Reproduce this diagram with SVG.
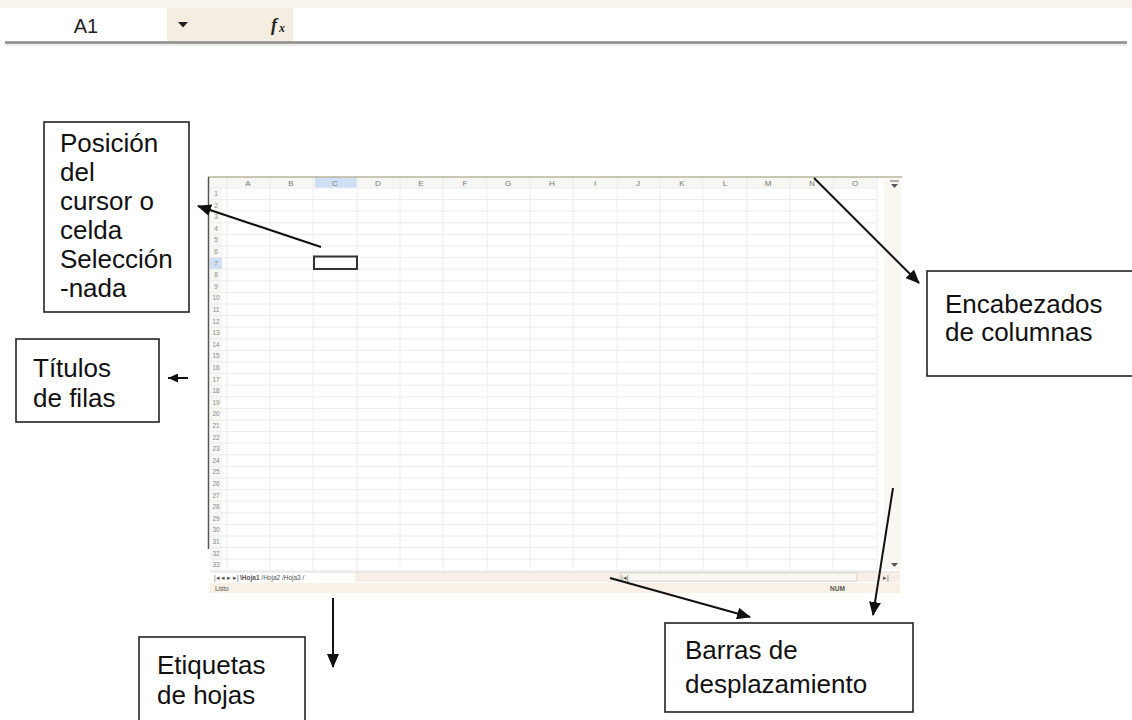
<svg xmlns="http://www.w3.org/2000/svg" width="1132" height="720" viewBox="0 0 1132 720">
<style>
.lbl{font-family:"Liberation Sans",Arial,sans-serif;font-size:26px;fill:#111;}
.box{fill:#fff;stroke:#222;stroke-width:1.6;}
.conn{stroke:#111;stroke-width:2;fill:none;}
.hdr{font-family:"Liberation Sans",Arial,sans-serif;font-size:8px;fill:#777;text-anchor:middle;}
.rn{font-family:"Liberation Sans",Arial,sans-serif;font-size:6.5px;fill:#888;text-anchor:middle;}
.tiny{font-family:"Liberation Sans",Arial,sans-serif;font-size:6.5px;fill:#555;}
.grid{stroke:#ececec;stroke-width:1;fill:none;}
</style>
<defs>
<marker id="ah" markerUnits="userSpaceOnUse" markerWidth="14" markerHeight="12" refX="13" refY="6" orient="auto">
<path d="M0,0 L14,6 L0,12 z" fill="#111"/>
</marker>
<marker id="ahs" markerUnits="userSpaceOnUse" markerWidth="10" markerHeight="9" refX="10" refY="4.5" orient="auto">
<path d="M0,0 L10,4.5 L0,9 z" fill="#111"/>
</marker>
</defs>
<rect width="1132" height="720" fill="#fff"/>

<!-- formula bar -->
<g id="formula-bar">
<rect x="0" y="0" width="1132" height="8" fill="#f8f3ec"/>
<rect x="5" y="8" width="1122" height="33" fill="#fff"/>
<rect x="167" y="8" width="126" height="33" fill="#f5ede2"/>
<line x1="5" y1="42.5" x2="1127" y2="42.5" stroke="#8a8a8a" stroke-width="2.5"/>
<line x1="5" y1="45" x2="1127" y2="45" stroke="#d8d8d8" stroke-width="1"/>
<text x="86" y="33" font-family="Liberation Sans, Arial, sans-serif" font-size="20" fill="#222" text-anchor="middle">A1</text>
<polygon points="178,22 188,22 183,27.5" fill="#222"/>
<text x="271" y="31" font-family="Liberation Serif, serif" font-size="18" font-style="italic" font-weight="bold" fill="#222">f</text>
<text x="279" y="32" font-family="Liberation Serif, serif" font-size="12" font-style="italic" font-weight="bold" fill="#222">x</text>
</g>

<!-- spreadsheet -->
<g id="spreadsheet">
<rect x="209" y="177" width="693" height="416" fill="#fff"/>
<rect x="209" y="177" width="668" height="11" fill="#f6f6f2"/>
<rect x="315" y="177" width="42" height="11" fill="#cfe0f5"/>
<rect x="210" y="188" width="12" height="382" fill="#f7f7f4"/>
<rect x="210" y="257" width="12" height="12" fill="#cfe0f5"/>
<path class="grid" d="M227,177V570 M270,177V570 M313,177V570 M357,177V570 M400,177V570 M443,177V570 M487,177V570 M530,177V570 M573,177V570 M617,177V570 M660,177V570 M703,177V570 M747,177V570 M790,177V570 M833,177V570 M877,177V570"/>
<path class="grid" d="M210,188H877 M210,199.6H877 M210,211.2H877 M210,222.8H877 M210,234.4H877 M210,246H877 M210,257.6H877 M210,269.2H877 M210,280.8H877 M210,292.4H877 M210,304H877 M210,315.6H877 M210,327.2H877 M210,338.8H877 M210,350.4H877 M210,362H877 M210,373.6H877 M210,385.2H877 M210,396.8H877 M210,408.4H877 M210,420H877 M210,431.6H877 M210,443.2H877 M210,454.8H877 M210,466.4H877 M210,478H877 M210,489.6H877 M210,501.2H877 M210,512.8H877 M210,524.4H877 M210,536H877 M210,547.6H877 M210,559.2H877 M210,570.8H877"/>
<line x1="208" y1="177" x2="902" y2="177" stroke="#b9b69c" stroke-width="1.5"/>
<line x1="208.5" y1="177" x2="208.5" y2="549" stroke="#555" stroke-width="1.5"/>
<text class="hdr" x="248" y="186">A</text>
<text class="hdr" x="291" y="186">B</text>
<text class="hdr" x="335" y="186">C</text>
<text class="hdr" x="378" y="186">D</text>
<text class="hdr" x="421" y="186">E</text>
<text class="hdr" x="465" y="186">F</text>
<text class="hdr" x="508" y="186">G</text>
<text class="hdr" x="552" y="186">H</text>
<text class="hdr" x="595" y="186">I</text>
<text class="hdr" x="638" y="186">J</text>
<text class="hdr" x="682" y="186">K</text>
<text class="hdr" x="725" y="186">L</text>
<text class="hdr" x="768" y="186">M</text>
<text class="hdr" x="812" y="186">N</text>
<text class="hdr" x="855" y="186">O</text>
<text class="rn" x="216" y="196">1</text>
<text class="rn" x="216" y="207.6">2</text>
<text class="rn" x="216" y="219.2">3</text>
<text class="rn" x="216" y="230.8">4</text>
<text class="rn" x="216" y="242.4">5</text>
<text class="rn" x="216" y="254">6</text>
<text class="rn" x="216" y="265.6">7</text>
<text class="rn" x="216" y="277.2">8</text>
<text class="rn" x="216" y="288.8">9</text>
<text class="rn" x="216" y="300.4">10</text>
<text class="rn" x="216" y="312">11</text>
<text class="rn" x="216" y="323.6">12</text>
<text class="rn" x="216" y="335.2">13</text>
<text class="rn" x="216" y="346.8">14</text>
<text class="rn" x="216" y="358.4">15</text>
<text class="rn" x="216" y="370">16</text>
<text class="rn" x="216" y="381.6">17</text>
<text class="rn" x="216" y="393.2">18</text>
<text class="rn" x="216" y="404.8">19</text>
<text class="rn" x="216" y="416.4">20</text>
<text class="rn" x="216" y="428">21</text>
<text class="rn" x="216" y="439.6">22</text>
<text class="rn" x="216" y="451.2">23</text>
<text class="rn" x="216" y="462.8">24</text>
<text class="rn" x="216" y="474.4">25</text>
<text class="rn" x="216" y="486">26</text>
<text class="rn" x="216" y="497.6">27</text>
<text class="rn" x="216" y="509.2">28</text>
<text class="rn" x="216" y="520.8">29</text>
<text class="rn" x="216" y="532.4">30</text>
<text class="rn" x="216" y="544">31</text>
<text class="rn" x="216" y="555.6">32</text>
<text class="rn" x="216" y="567.2">33</text>
<!-- vertical scrollbar -->
<rect x="884" y="178" width="17" height="392" fill="#faf7f2"/>
<line x1="890" y1="181" x2="899" y2="181" stroke="#666" stroke-width="1"/>
<polygon points="891,184 898,184 894.5,188" fill="#555"/>
<polygon points="891,563 898,563 894.5,567" fill="#555"/>
<!-- selected cell -->
<rect x="314" y="256.5" width="43" height="12.5" fill="none" stroke="#333" stroke-width="2"/>
<!-- tab bar -->
<rect x="355" y="572" width="545" height="10" fill="#f7efe5"/>
<line x1="210" y1="572" x2="900" y2="572" stroke="#ddd" stroke-width="1"/>
<text class="tiny" x="214" y="580">|◂ ◂ ▸ ▸|</text>
<text class="tiny" x="240" y="580"><tspan font-weight="bold">\Hoja1</tspan> /Hoja2 /Hoja3 /</text>
<rect x="620" y="573" width="237" height="8" fill="#fbf8f3" stroke="#ccc" stroke-width="0.8"/>
<text class="tiny" x="621" y="580">|◂|</text>
<text class="tiny" x="883" y="580">▸|</text>
<!-- status bar -->
<rect x="210" y="583" width="690" height="10" fill="#f9f1e5"/>
<text class="tiny" x="215" y="591">Listo</text>
<text class="tiny" x="830" y="591" font-weight="bold">NUM</text>
</g>

<!-- nodes -->
<g id="posicion">
<rect class="box" x="44" y="122" width="145" height="190"/>
<text class="lbl" x="60" y="152">Posición</text>
<text class="lbl" x="60" y="181">del</text>
<text class="lbl" x="60" y="210">cursor o</text>
<text class="lbl" x="60" y="239">celda</text>
<text class="lbl" x="60" y="268">Selección</text>
<text class="lbl" x="60" y="297">-nada</text>
</g>
<g id="titulos">
<rect class="box" x="16" y="339" width="143" height="83"/>
<text class="lbl" x="33" y="377">Títulos</text>
<text class="lbl" x="33" y="407">de filas</text>
</g>
<g id="encabezados">
<rect class="box" x="927" y="271" width="210" height="105"/>
<text class="lbl" x="945" y="313">Encabezados</text>
<text class="lbl" x="945" y="341">de columnas</text>
</g>
<g id="etiquetas">
<rect class="box" x="139" y="637" width="166" height="100"/>
<text class="lbl" x="157" y="674">Etiquetas</text>
<text class="lbl" x="157" y="704">de hojas</text>
</g>
<g id="barras">
<rect class="box" x="665" y="623" width="248" height="89"/>
<text class="lbl" x="685" y="659">Barras de</text>
<text class="lbl" x="685" y="693">desplazamiento</text>
</g>

<!-- connectors -->
<g id="connectors">
<path class="conn" d="M321,247 L198,206" marker-end="url(#ah)"/>
<path class="conn" d="M814,178 L919,283" marker-end="url(#ah)"/>
<path class="conn" d="M188,378 L168,378" marker-end="url(#ahs)"/>
<path class="conn" d="M333,598 L333,667" marker-end="url(#ah)"/>
<path class="conn" d="M610,578 L750,617" marker-end="url(#ah)"/>
<path class="conn" d="M893,488 L873,615" marker-end="url(#ah)"/>
</g>
</svg>
